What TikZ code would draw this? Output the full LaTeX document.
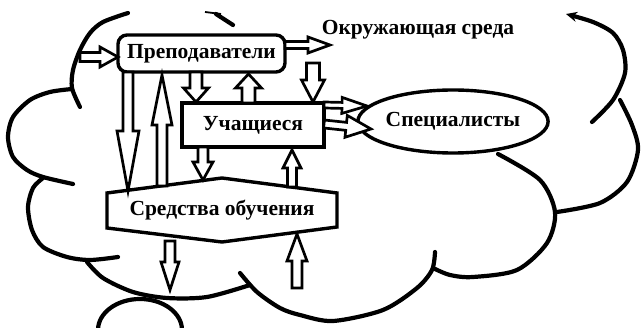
\documentclass[tikz,border=0pt]{standalone}
\usepackage{fontspec}
\setmainfont{Liberation Serif}
\usetikzlibrary{calc,arrows.meta,shapes.geometric}
\newcommand\blkarrow[5]{%
  \draw[blk] let \p1=($(#2)-(#1)$), \n1={atan2(\y1,\x1)}, \n2={veclen(\x1,\y1)} in
    [shift={(#1)}, rotate=\n1]
    (0pt,#3) -- (\n2-#5,#3) -- (\n2-#5,#4) -- (\n2,0pt) -- (\n2-#5,-#4) -- (\n2-#5,-#3) -- (0pt,-#3) -- cycle;
}
\begin{document}
\begin{tikzpicture}[x=1pt,y=-1pt,
  cloud/.style={line width=4.2pt,line cap=round},
  box/.style={draw,line width=3.4pt},
  blk/.style={draw,fill=white,line width=2.7pt,line join=miter},
  lbl/.style={font=\fontsize{21.5}{24}\selectfont\bfseries}]
\useasboundingbox (0,0) rectangle (643,328);
% cloud outline
\draw[cloud] plot[smooth] coordinates {(80,107) (72,88) (73,70) (80,50) (90,33) (103,22) (128,13)};
\draw[cloud] (233,25) -- (216,14);
\draw[line width=1.8pt] (221,14) -- (205,12);
\draw[cloud] plot[smooth] coordinates {(72,89) (50,92) (30,100) (13,117) (8,137) (13,157) (27,170) (43,177) (73,184)};
\draw[cloud] plot[smooth] coordinates {(43,178) (33,188) (28,207) (32,230) (43,247) (67,257) (90,260) (118,257)};
\draw[cloud] plot[smooth] coordinates {(87,262) (103,278) (133,292) (167,298) (207,297) (250,285)};
\draw[cloud] plot[smooth] coordinates {(240,273) (257,292) (280,308) (300,315) (333,321) (383,310) (417,288) (432,270) (435,252)};
\draw[cloud] plot[smooth] coordinates {(433,268) (450,275) (473,277) (517,270) (547,243) (555,212) (540,180) (498,154)};
\draw[cloud] plot[smooth] coordinates {(557,212) (600,203) (627,182) (638,150) (632,125) (620,100)};
\draw[cloud,-{Stealth[length=11pt,width=10pt]}] plot[smooth] coordinates {(592,122) (613,100) (625,73) (623,50) (613,33) (593,22) (566,14)};
\draw[cloud] (140,330) ellipse[x radius=42, y radius=31];
% nodes
\node[box,rounded corners=9pt,minimum width=167pt,minimum height=37pt,inner sep=0pt,lbl] (prep) at (201.5,53.5) {Преподаватели};
\node[box,minimum width=142pt,minimum height=44pt,inner sep=0pt,lbl] (uch) at (253,125) {Учащиеся};
\node[box,ellipse,minimum width=170pt,minimum height=63pt,inner sep=0pt,lbl] (spec) at (453,121.5) {Специалисты};
\node[lbl] (env) at (418,30) {Окружающая среда};
\coordinate (s1) at (107,193);
\coordinate (s2) at (222,178);
\coordinate (s3) at (337,193);
\coordinate (s4) at (337,227);
\coordinate (s5) at (222,242);
\coordinate (s6) at (107,228);
\draw[box,line join=miter] (s1) -- (s2) -- (s3) -- (s4) -- (s5) -- (s6) -- cycle;
\node[lbl] (sred) at (222,210) {Средства обучения};
% arrow end points
\coordinate (a1s) at (80,57);   \coordinate (a1e) at (118,57);
\coordinate (a2s) at (285,45);  \coordinate (a2e) at (330,45);
\coordinate (a3s) at (128,72);  \coordinate (a3e) at (128,191);
\coordinate (a4s) at (162,186); \coordinate (a4e) at (162,75);
\coordinate (a5s) at (196,72);  \coordinate (a5e) at (196,102);
\coordinate (a6s) at (248.5,103); \coordinate (a6e) at (248.5,74);
\coordinate (a7s) at (313,63);  \coordinate (a7e) at (313,102);
\coordinate (a8s) at (324,105); \coordinate (a8e) at (367,106);
\coordinate (a9s) at (324,124); \coordinate (a9e) at (371,129);
\coordinate (a10s) at (203,147); \coordinate (a10e) at (203,180);
\coordinate (a11s) at (292,187); \coordinate (a11e) at (292,150);
\coordinate (a12s) at (170,241); \coordinate (a12e) at (170,290);
\coordinate (a13s) at (297,288); \coordinate (a13e) at (297,234);
% block arrows
\blkarrow{a1s}{a1e}{4.5pt}{10pt}{18pt}
\blkarrow{a2s}{a2e}{3.5pt}{8pt}{22pt}
\blkarrow{a3s}{a3e}{5pt}{11pt}{60pt}
\blkarrow{a4s}{a4e}{5pt}{10pt}{50pt}
\blkarrow{a5s}{a5e}{6pt}{12.5pt}{14pt}
\blkarrow{a6s}{a6e}{6.5pt}{13pt}{14pt}
\blkarrow{a7s}{a7e}{6.5pt}{11.5pt}{22pt}
\blkarrow{a8s}{a8e}{3pt}{8pt}{25pt}
\blkarrow{a9s}{a9e}{4pt}{11pt}{25pt}
\blkarrow{a10s}{a10e}{5pt}{10pt}{18pt}
\blkarrow{a11s}{a11e}{4.5pt}{9pt}{18pt}
\blkarrow{a12s}{a12e}{5pt}{9pt}{28pt}
\blkarrow{a13s}{a13e}{5pt}{10pt}{27pt}
\end{tikzpicture}
\end{document}
